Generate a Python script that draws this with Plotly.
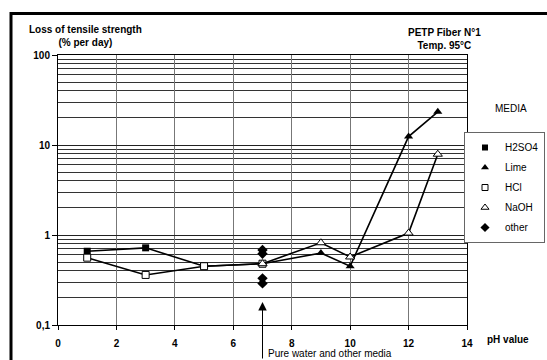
import plotly.graph_objects as go

# pH values and loss of tensile strength (% per day), PETP fiber N°1 at 95 °C
ph_acid = [1, 3, 5, 7]
h2so4 = [0.66, 0.72, 0.45, 0.48]
hcl = [0.56, 0.36, 0.45, 0.48]

ph_base = [7, 9, 10, 12, 13]
lime = [0.48, 0.63, 0.45, 12.4, 23.4]
naoh = [0.48, 0.82, 0.57, 1.05, 7.9]

ph_other = [7, 7, 7, 7]
other = [0.68, 0.62, 0.33, 0.29]

x_ticks = [0, 2, 4, 6, 8, 10, 12, 14]
y_major = [0.1, 1, 10, 100]
y_major_text = ["0,1", "1", "10", "100"]
y_minor = [m * d for d in (0.1, 1, 10) for m in range(2, 10)]

FONT = "Liberation Sans, Arial, sans-serif"
W, H = 547, 360
ML, MR, MT, MB = 58, 80, 55, 35
PW, PH = W - ML - MR, H - MT - MB


def px(x):
    return (x - ML) / PW


def py(y):
    return (H - MB - y) / PH


fig = go.Figure()

line = dict(color="black", width=1.6)
series = [
    ("H2SO4", ph_acid, h2so4, "lines+markers",
     dict(symbol="square", size=7, color="black")),
    ("Lime", ph_base, lime, "lines+markers",
     dict(symbol="triangle-up", size=8, color="black")),
    ("HCl", ph_acid, hcl, "lines+markers",
     dict(symbol="square", size=7, color="white", line=dict(color="black", width=1))),
    ("NaOH", ph_base, naoh, "lines+markers",
     dict(symbol="triangle-up", size=8, color="white", line=dict(color="black", width=1))),
    ("other", ph_other, other, "markers",
     dict(symbol="diamond", size=8, color="black")),
]

for i, (name, xs, ys, mode, marker) in enumerate(series):
    fig.add_trace(go.Scatter(x=xs, y=ys, name=name, mode=mode, line=line,
                             marker=marker, legendgroup=name, showlegend=False))
    # marker-only key in the legend box
    key = dict(marker, size=marker["size"] - 1)
    fig.add_trace(go.Scatter(x=[None], y=[None], name=name, mode="markers",
                             marker=key, legendgroup=name, showlegend=True))

fig.update_xaxes(
    range=[0, 14], tickvals=x_ticks, ticks="outside", ticklen=4,
    tickcolor="black", showline=True, linecolor="black", linewidth=1,
    mirror=True, showgrid=True, gridcolor="#777", gridwidth=1,
    zeroline=False, ticklabelstandoff=5,
    tickfont=dict(family=FONT, size=10, color="black", weight="bold"),
)
fig.update_yaxes(
    type="log", range=[-1, 2], tickvals=y_major, ticktext=y_major_text,
    ticks="outside", ticklen=5, tickcolor="black", showline=True,
    linecolor="black", linewidth=1, mirror=True, showgrid=True,
    gridcolor="#222", gridwidth=1,
    minor=dict(tickvals=y_minor, showgrid=True, gridcolor="#333",
               gridwidth=1, ticks=""),
    tickfont=dict(family=FONT, size=10, color="black", weight="bold"),
)

annotations = [
    dict(text="Loss of tensile strength<br>(% per day)", x=px(85), y=py(35.5),
         font=dict(size=10, weight="bold")),
    dict(text="PETP Fiber N°1<br>Temp. 95°C", x=px(444), y=py(38.5),
         font=dict(size=10, weight="bold")),
    dict(text="MEDIA", x=px(511), y=py(108), font=dict(size=10)),
    dict(text="pH value", x=px(485), y=py(339), xanchor="left",
         font=dict(size=10, weight="bold")),
    dict(text="Pure water and other media", x=px(266), y=py(353),
         xanchor="left", font=dict(size=10)),
]
for a in annotations:
    a.setdefault("xanchor", "center")
    a.update(xref="paper", yref="paper", yanchor="middle", showarrow=False,
             align="center")
    a["font"] = dict(family=FONT, color="black", **a["font"])

# arrow pointing at pH 7 from below the axis
annotations.append(dict(x=7, y=-0.745, xref="x", yref="y", text="",
                        showarrow=True, arrowhead=2, arrowsize=1.7,
                        arrowwidth=1, arrowcolor="black", ax=0, ay=62))

fig.update_layout(
    width=W, height=H,
    margin=dict(l=ML, r=MR, t=MT, b=MB, autoexpand=False),
    paper_bgcolor="white", plot_bgcolor="white",
    font=dict(family=FONT, size=10, color="black"),
    annotations=annotations,
    legend=dict(x=px(545), y=py(132), xanchor="right", yanchor="top",
                bordercolor="#666", borderwidth=1, bgcolor="white",
                font=dict(family=FONT, size=10, color="black"),
                traceorder="grouped", tracegroupgap=1, itemwidth=30),
    shapes=[
        dict(type="line", xref="paper", yref="paper", x0=px(11), x1=px(11),
             y0=py(12), y1=py(370), line=dict(color="black", width=3)),
        dict(type="line", xref="paper", yref="paper", x0=px(10), x1=px(560),
             y0=py(13.5), y1=py(13.5), line=dict(color="black", width=3)),
    ],
)

fig.write_html("out.html")
